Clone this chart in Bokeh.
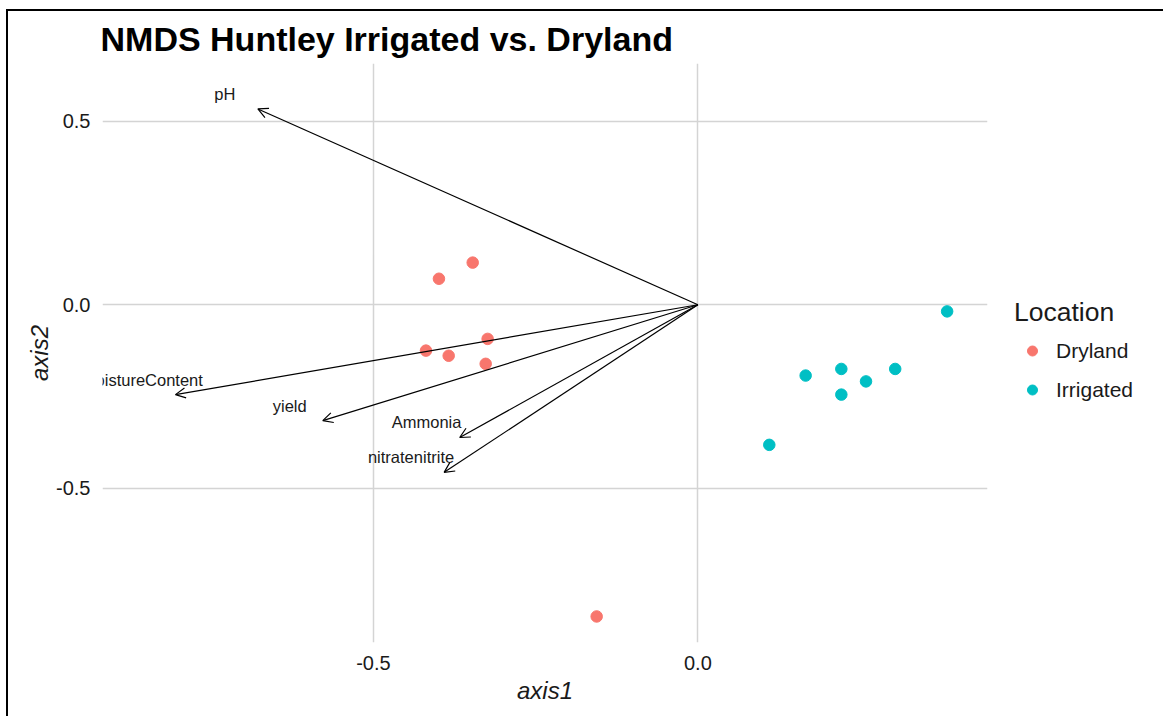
from bokeh.plotting import figure
from bokeh.models import (ColumnDataSource, Arrow, OpenHead, FixedTicker,
                          PrintfTickFormatter, Legend, LegendItem, Range1d)
from bokeh.core.properties import value
from bokeh.embed import file_html
from bokeh.resources import INLINE

# ---------------- data ----------------
dry_axis1 = [-0.399, -0.347, -0.419, -0.384, -0.324, -0.327, -0.156]
dry_axis2 = [0.071, 0.115, -0.125, -0.139, -0.093, -0.161, -0.850]

irr_axis1 = [0.384, 0.166, 0.221, 0.259, 0.304, 0.221, 0.110]
irr_axis2 = [-0.018, -0.193, -0.175, -0.209, -0.175, -0.245, -0.382]

env_names = ["pH", "MoistureContent", "yield", "Ammonia", "nitratenitrite"]
env_axis1 = [-0.678, -0.805, -0.578, -0.367, -0.391]
env_axis2 = [0.534, -0.245, -0.316, -0.362, -0.457]

ticks = [-0.5, 0.0, 0.5]

# label nudge (ggplot nudge_x / nudge_y)
NUDGE_X = -0.051
NUDGE_Y = 0.041

DRY_COL = "#F8766D"
IRR_COL = "#00BFC4"
FONT = "Liberation Sans"
TXT = "#1a1a1a"

p = figure(frame_width=885, frame_height=579,
           x_range=Range1d(-0.9174, 0.4462), y_range=Range1d(-0.921, 0.658),
           output_backend="svg", toolbar_location=None,
           min_border_left=94, min_border_right=170,
           min_border_top=51, min_border_bottom=75,
           title="NMDS Huntley Irrigated vs. Dryland")
p.margin = (9, 0, 0, 6)
p.styles = {"border-top": "2px solid black", "border-left": "2px solid black"}
p.outline_line_color = None
p.background_fill_color = "white"
p.border_fill_color = "white"

p.title.text_font = FONT
p.title.text_font_size = "34px"
p.title.text_font_style = "bold"
p.title.text_color = "black"
p.title.offset = -2
p.title.standoff = 12

for ax in (p.xaxis[0], p.yaxis[0]):
    ax.ticker = FixedTicker(ticks=ticks)
    ax.formatter = PrintfTickFormatter(format="%.1f")
    ax.axis_line_color = None
    ax.major_tick_line_color = None
    ax.minor_tick_line_color = None
    ax.major_tick_out = 0
    ax.major_tick_in = 0
    ax.major_label_text_font = FONT
    ax.major_label_text_font_size = "20px"
    ax.major_label_text_color = TXT
    ax.axis_label_text_font = FONT
    ax.axis_label_text_font_style = "italic"
    ax.axis_label_text_font_size = "24px"
    ax.axis_label_text_color = TXT
    ax.major_label_standoff = 12
p.xaxis.axis_label = "axis1"
p.yaxis.axis_label = "axis2"
p.xaxis.major_label_standoff = 13
p.xaxis.axis_label_standoff = 4
p.yaxis.axis_label_standoff = 0
p.yaxis.major_label_orientation = "horizontal"

for g in (p.xgrid[0], p.ygrid[0]):
    g.grid_line_color = "#D4D4D4"
    g.grid_line_width = 1.5
    g.minor_grid_line_color = None

# arrows (biplot vectors)
n = len(env_names)
arrow_src = ColumnDataSource(dict(
    x0=[0.0] * n, y0=[0.0] * n, x1=env_axis1, y1=env_axis2))
p.add_layout(Arrow(end=OpenHead(size=10, line_width=1.2, line_color="black"),
                   x_start="x0", y_start="y0", x_end="x1", y_end="y1",
                   source=arrow_src, line_width=1.2, line_color="black"))

lab_src = ColumnDataSource(dict(
    x=[v + NUDGE_X for v in env_axis1],
    y=[v + NUDGE_Y for v in env_axis2],
    t=env_names))
p.text(x="x", y="y", text="t", source=lab_src, text_align="center",
       text_baseline="middle", text_font=value(FONT), text_font_size="16.5px",
       text_color=TXT)

r_dry = p.scatter(dry_axis1, dry_axis2, size=11.5, color=DRY_COL)
r_irr = p.scatter(irr_axis1, irr_axis2, size=11.5, color=IRR_COL)

legend = Legend(items=[LegendItem(label="Dryland", renderers=[r_dry]),
                       LegendItem(label="Irrigated", renderers=[r_irr])],
                title="Location", location=(27, 240),
                margin=27, padding=10, spacing=14,
                glyph_width=36, glyph_height=25, label_standoff=6,
                title_standoff=10,
                border_line_color=None, background_fill_alpha=0)
legend.title_text_font = FONT
legend.title_text_font_size = "26.5px"
legend.title_text_font_style = "normal"
legend.title_text_color = TXT
legend.label_text_font = FONT
legend.label_text_font_size = "21px"
legend.label_text_color = TXT
p.add_layout(legend, "right")

open("out.html", "w").write(file_html(p, INLINE))
